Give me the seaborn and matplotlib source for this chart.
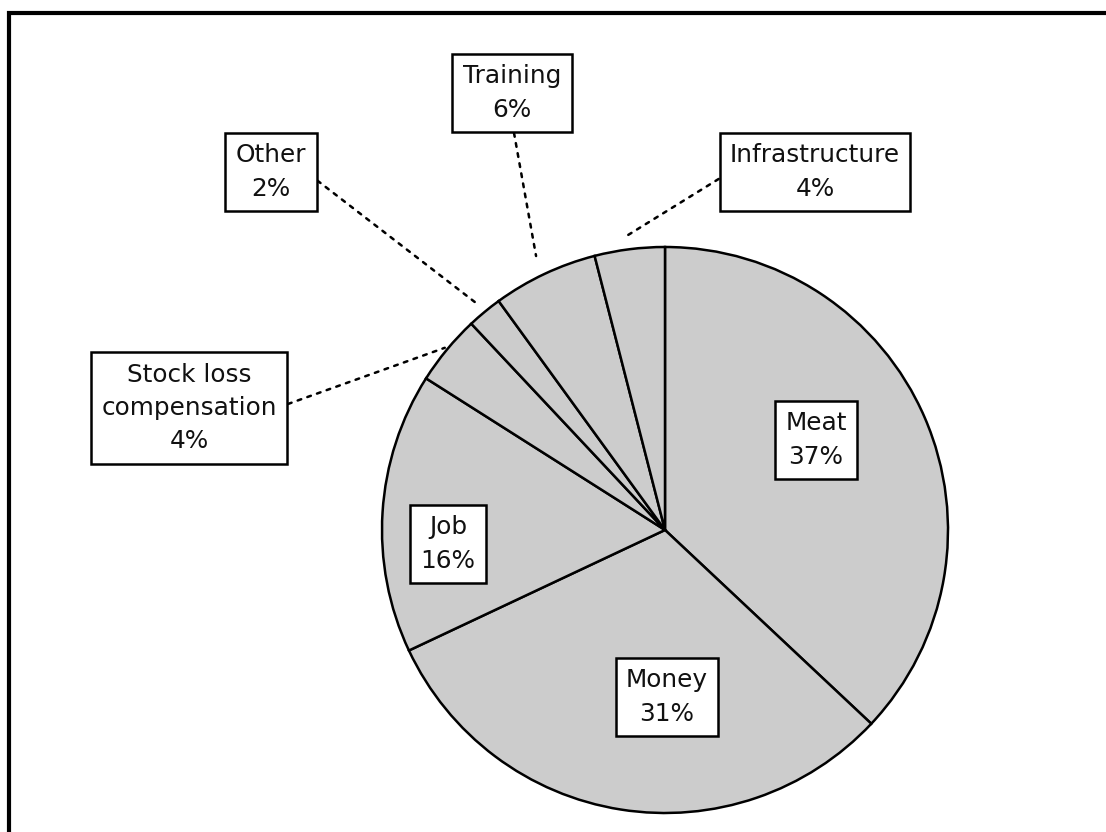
import numpy as np
import matplotlib
matplotlib.use("Agg")
import matplotlib.pyplot as plt
from matplotlib.patches import Rectangle
import seaborn as sns

# Share of benefits by category
categories = ["Meat", "Money", "Job", "Stock loss\ncompensation", "Other", "Training", "Infrastructure"]
shares = [37, 31, 16, 4, 2, 6, 4]

sns.set_theme(style="white")
plt.rcParams["font.family"] = ["DejaVu Sans"]

W, H = 1106, 832
fig = plt.figure(figsize=(W / 100, H / 100), dpi=100)
ax = fig.add_axes([0, 0, 1, 1])

cx, cy, R = 665, H - 530, 283
wedges, _ = ax.pie(
    shares,
    startangle=90,
    counterclock=False,
    center=(cx, cy),
    radius=R,
    colors=["#cccccc"] * len(shares),
    wedgeprops=dict(edgecolor="black", linewidth=1.8),
)
ax.set_xlim(0, W)
ax.set_ylim(0, H)
ax.set_aspect("equal")
ax.axis("off")

# label placement: centre (px from top), leader start on box, leader end radius
layout = {
    "Meat": ((816, 440), None, None),
    "Money": ((667, 697), None, None),
    "Job": ((448, 544), None, None),
    "Stock loss\ncompensation": ((189, 408), (1.0, 0.5), 1.01),
    "Other": ((271, 172), (1.0, 0.5), 1.03),
    "Training": ((512, 93), (0.5, 0.0), 1.07),
    "Infrastructure": ((815, 172), (0.0, 0.5), 1.05),
}

FS = 17.8
LS = 1.5
box = dict(boxstyle="square,pad=0.42", facecolor="white", edgecolor="black", linewidth=1.8)
for w, cat, val in zip(wedges, categories, shares):
    (lx, ly), rel, rr = layout[cat]
    label = f"{cat}\n{val}%"
    if rel is None:
        ax.text(lx, H - ly, label, ha="center", va="center", fontsize=FS,
                color="#111111", bbox=box, linespacing=LS)
    else:
        mid = np.deg2rad((w.theta1 + w.theta2) / 2)
        px = cx + rr * R * np.cos(mid)
        py = cy + rr * R * np.sin(mid)
        ax.annotate(label, xy=(px, py), xytext=(lx, H - ly),
                    ha="center", va="center", fontsize=FS, color="#111111",
                    bbox=box, linespacing=LS,
                    arrowprops=dict(arrowstyle="-", linestyle=(0, (1.5, 2.6)),
                                    linewidth=1.8, color="black", relpos=rel,
                                    shrinkA=0, shrinkB=0))

# outer frame
ax.add_patch(Rectangle((8.5, -20), W + 40, H - 13 + 20, fill=False,
                       edgecolor="black", linewidth=3, clip_on=False))

fig.savefig("out.png", dpi=100)
